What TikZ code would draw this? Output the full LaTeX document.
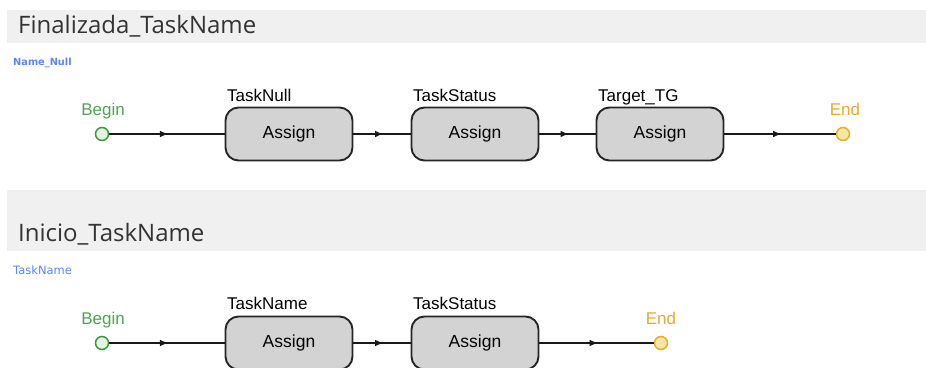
\documentclass[tikz,border=0pt]{standalone}
\usepackage{fontspec}
\setmainfont{Liberation Sans}
\newfontfamily\titlefont{Open Sans}
\newfontfamily\subfont{DejaVu Sans}
\usetikzlibrary{decorations.markings,arrows.meta}
\definecolor{bandgray}{HTML}{F0F0F0}
\definecolor{boxgray}{HTML}{D3D3D3}
\definecolor{beginstroke}{HTML}{3A9A3A}
\definecolor{beginfill}{HTML}{E2F5E2}
\definecolor{beginText}{HTML}{4DA64D}
\definecolor{endstroke}{HTML}{E0B030}
\definecolor{endfill}{HTML}{F5E6A0}
\definecolor{endText}{HTML}{E6AA33}
\definecolor{subblue}{HTML}{5B86F5}
\definecolor{titlegray}{HTML}{333333}
\tikzset{
  band/.style={fill=bandgray, draw=none},
  titletext/.style={anchor=base west, inner sep=0pt, text=titlegray, font=\titlefont\fontsize{24}{24}\selectfont},
  subtext/.style={anchor=base west, inner sep=0pt, text=subblue, font=\subfont\fontsize{11.5}{11.5}\selectfont},
  assignbox/.style={draw=black!85, line width=1.9pt, fill=boxgray, rounded corners=13pt,
    minimum width=127pt, minimum height=53pt, inner sep=0pt, font=\fontsize{17.5}{17.5}\selectfont},
  tasklabel/.style={anchor=base west, inner sep=0pt, font=\fontsize{17}{17}\selectfont},
  beginnode/.style={circle, draw=beginstroke, fill=beginfill, line width=1.5pt, minimum size=13pt, inner sep=0pt},
  endnode/.style={circle, draw=endstroke, fill=endfill, line width=1.5pt, minimum size=13pt, inner sep=0pt},
  begintext/.style={anchor=base, inner sep=0pt, text=beginText, font=\fontsize{17}{17}\selectfont},
  endtext/.style={anchor=base, inner sep=0pt, text=endText, font=\fontsize{17}{17}\selectfont},
  flow/.style={line width=1.3pt, draw=black!90, postaction={decorate},
    decoration={markings, mark=at position 0.5 with {\arrow{Triangle[length=7pt,width=6pt]}}}}
}
\begin{document}
\begin{tikzpicture}[x=1pt,y=-1pt]
\useasboundingbox (0,0) rectangle (926,367);
\clip (0,0) rectangle (926,367);
% header bands
\fill[band] (7,10) rectangle (926,43);
\fill[band] (7,190) rectangle (926,251);
\node[titletext] (t1) at (18,33) {Finalizada\_TaskName};
\node[titletext] (t2) at (18,241) {Inicio\_TaskName};
\node[subtext, font=\subfont\bfseries\fontsize{9.8}{9.8}\selectfont] (s1) at (13,65) {Name\_Null};
\node[subtext] (s2) at (13,274) {TaskName};
% row 1
\node[beginnode] (b1) at (102,134) {};
\node[begintext] (b1t) at (103,115) {Begin};
\node[assignbox] (a1) at (289,134) {Assign};
\node[tasklabel] (a1t) at (227,101) {TaskNull};
\node[assignbox] (a2) at (475,134) {Assign};
\node[tasklabel] (a2t) at (413,101) {TaskStatus};
\node[assignbox] (a3) at (660,134) {Assign};
\node[tasklabel] (a3t) at (598,101) {Target\_TG};
\node[endnode] (e1) at (843,134) {};
\node[endtext] (e1t) at (845,115) {End};
\draw[flow] (b1) -- (a1);
\draw[flow] (a1) -- (a2);
\draw[flow] (a2) -- (a3);
\draw[flow] (a3) -- (e1);
% row 2
\node[beginnode] (b2) at (102,343) {};
\node[begintext] (b2t) at (103,324) {Begin};
\node[assignbox] (c1) at (289,343) {Assign};
\node[tasklabel] (c1t) at (227,309) {TaskName};
\node[assignbox] (c2) at (475,343) {Assign};
\node[tasklabel] (c2t) at (413,309) {TaskStatus};
\node[endnode] (e2) at (661,343) {};
\node[endtext] (e2t) at (661,324) {End};
\draw[flow] (b2) -- (c1);
\draw[flow] (c1) -- (c2);
\draw[flow] (c2) -- (e2);
\end{tikzpicture}
\end{document}
